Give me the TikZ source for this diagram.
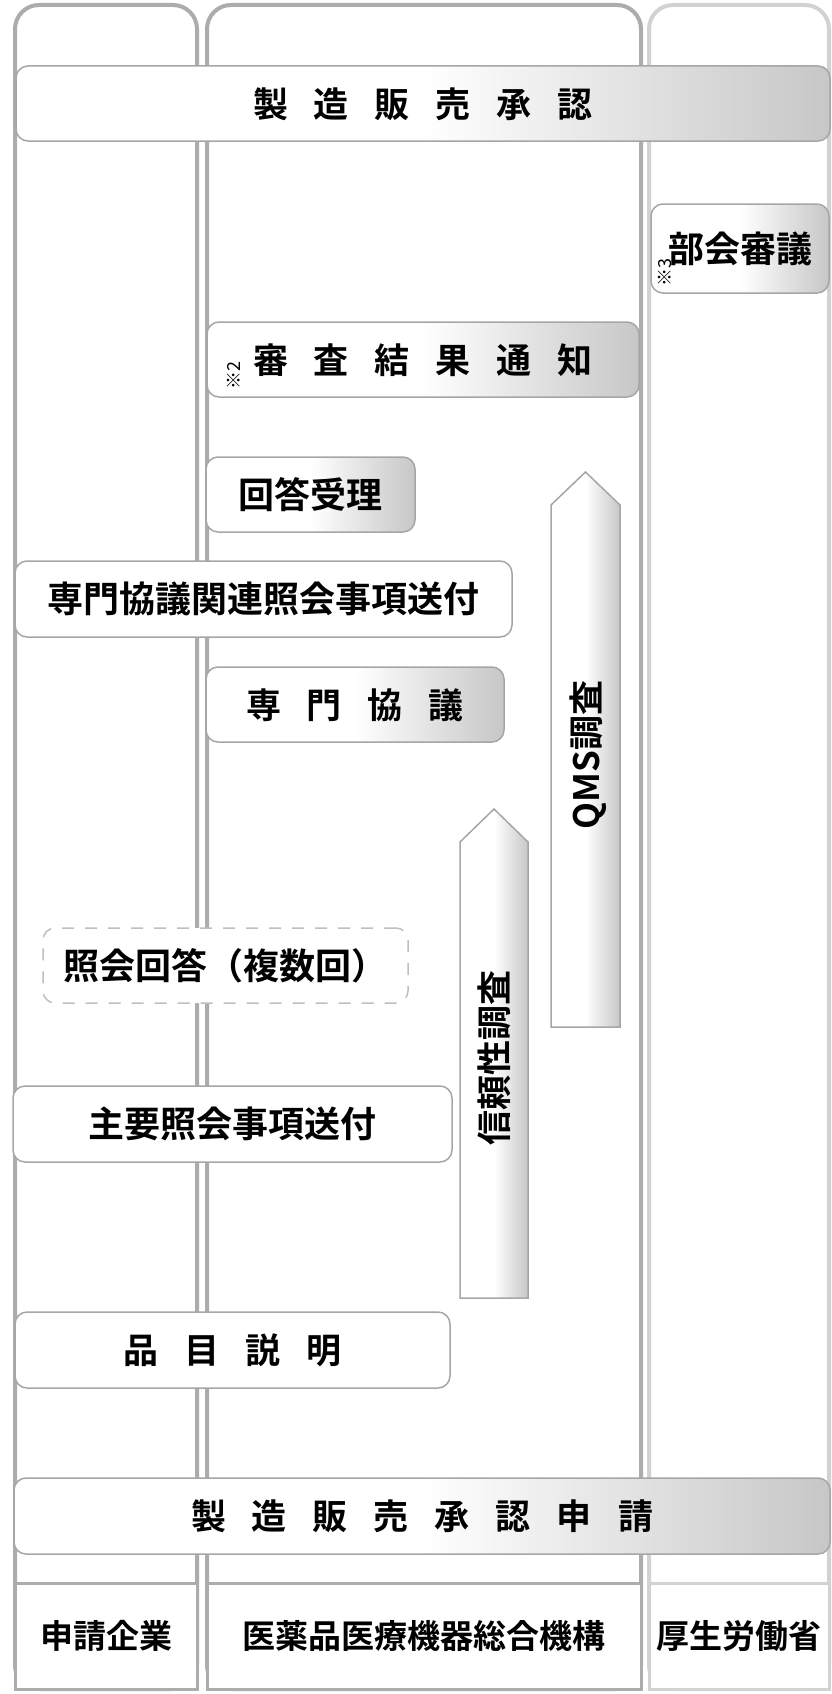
\documentclass[tikz,border=0pt]{standalone}
\usepackage{fontspec}
\setmainfont{Noto Sans CJK JP}[BoldFont={Noto Sans CJK JP Bold}]
\usepackage{tikz}
\usetikzlibrary{calc,fit,positioning}
\newcommand{\gp}{\hspace{\boxgap}}
\tikzset{
	review flow/.style={
		x=1pt, y=-1pt,
		every node/.style={inner sep=0pt, outer sep=0pt},
		font=\bfseries\fontsize{36}{40}\selectfont
		},
	box gap/.store in=\boxgap,
	box gap=26pt,
	area/.style n args={4}{minimum width={#3-#1}, minimum height={#4-#2},
		at={({(#1+#3)/2},{(#2+#4)/2})}},
	lane/.style={draw=#1, line width=4pt, rounded corners=24pt},
	lane head/.style={draw=gray!65, line width=3pt, fill=white, text height=28pt, text depth=3pt,
		font=\bfseries\fontsize{33}{36}\selectfont},
	stepbox/.style={draw=gray!70, line width=1.5pt, rounded corners=12pt, fill=white,
		text height=30pt, text depth=3pt},
	shaded/.style={stepbox, left color=white, right color=black!22, middle color=white},
	querybox/.style={stepbox, draw=gray!50, dash pattern=on 12pt off 11pt},
	spaced/.style={font=\bfseries\fontsize{35}{40}\selectfont},
	note mark/.style={font=\mdseries\fontsize{18}{20}\selectfont, rotate=90},
	phase/.style={draw=gray!70, line width=1.5pt, left color=white, right color=black!22, middle color=white},
	phase label/.style={rotate=90, text height=30pt, text depth=3pt,
		font=\bfseries\fontsize{35}{40}\selectfont}
}

\begin{document}
\begin{tikzpicture}[review flow]
   \useasboundingbox[fill=white] (0,0) rectangle (832,1694);
   % lanes
   \node[lane=gray!65, fit={(15,5) (197,1689)}] (appl) {};
   \node[lane=gray!65, fit={(207,5) (641,1689)}] (pmda) {};
   \node[lane=gray!35, fit={(649,5) (829,1689)}] (mhlw) {};
   \node[lane head, area={15}{1583}{197}{1689}] (appl head) {申請企業};
   \node[lane head, area={207}{1583}{641}{1689}] (pmda head) {医薬品医療機器総合機構};
   \node[lane head, draw=gray!35, area={649}{1583}{829}{1689}] (mhlw head) {厚生労働省};
   % steps
   \node[shaded, spaced, area={14}{1478}{830}{1554}] (apply) {製\gp 造\gp 販\gp 売\gp 承\gp 認\gp 申\gp 請};
   \node[stepbox, spaced, area={15}{1312}{450}{1388}] (intro) {品\gp 目\gp 説\gp 明};
   \node[stepbox, area={13}{1086}{452}{1162}] (mainq) {主要照会事項送付};
   \node[querybox, area={43}{928}{408}{1003}] (reply) {照会回答（複数回）};
   \node[shaded, spaced, area={206}{667}{504}{742}] (expert) {専\gp 門\gp 協\gp 議};
   \node[stepbox, area={15}{561}{512}{637}] (expq) {専門協議関連照会事項送付};
   \node[shaded, area={206}{457}{415}{532}] (receipt) {回答受理};
   \node[shaded, spaced, area={207}{322}{639}{397}] (result) {審\gp 査\gp 結\gp 果\gp 通\gp 知};
   \node[note mark] (mark2) at ($(result.south west)+(27,-21)$) {※2};
   \node[shaded, area={651}{204}{829}{293}] (council) {部会審議};
   \node[note mark] (mark3) at ($(council.south west)+(14,-20)$) {※3};
   \node[shaded, spaced, area={16}{66}{830}{141}] (approval) {製\gp 造\gp 販\gp 売\gp 承\gp 認};
   % surveys
   \draw[phase] (460,1298) -- (460,842) -- (494,809) -- (528,842) -- (528,1298) -- cycle;
   \node[phase label] (gcp) at (494,1058) {信頼性調査};
   \draw[phase] (551,1027) -- (551,505) -- (585.5,472) -- (620,505) -- (620,1027) -- cycle;
   \node[phase label] (qms) at (585.5,755) {QMS調査};
\end{tikzpicture}
\end{document}
